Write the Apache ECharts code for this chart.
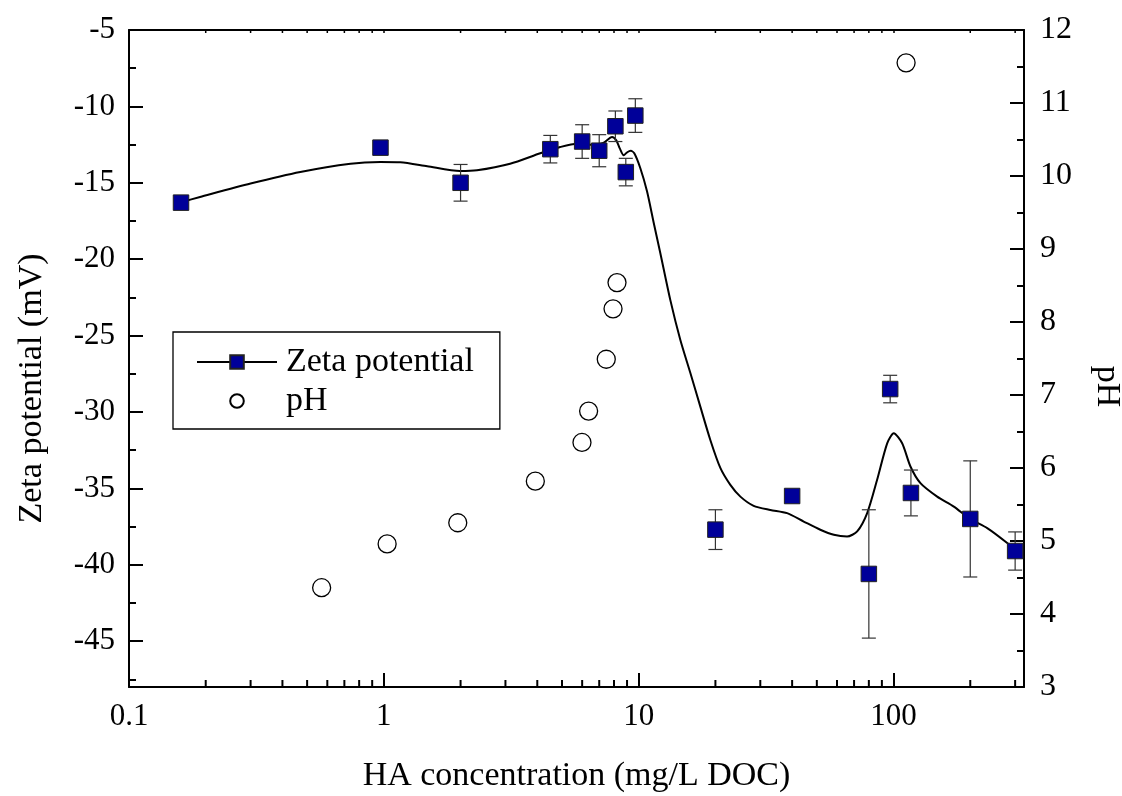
<!DOCTYPE html>
<html>
<head>
<meta charset="utf-8">
<script src="https://cdn.jsdelivr.net/npm/echarts@6/dist/echarts.min.js"></script>
<style>
html,body{margin:0;padding:0;background:#fff;}
#chart{width:1122px;height:796px;}
</style>
</head>
<body>
<div id="chart"></div>
<script>
// ---- data ----
const zetaX   = [0.16, 0.97, 2.0, 4.5, 6.0, 7.0, 8.1, 8.9, 9.7, 20, 40, 80, 97, 117, 200, 300];
const zetaY   = [-16.3, -12.7, -15.0, -12.8, -12.3, -12.9, -11.3, -14.3, -10.6, -37.7, -35.5, -40.6, -28.5, -35.3, -37.0, -39.1];
const zetaErr = [0.3, 0, 1.2, 0.9, 1.1, 1.05, 1.0, 0.9, 1.1, 1.3, 0, 4.2, 0.9, 1.5, 3.8, 1.25];

const phX = [0.57, 1.03, 1.95, 3.93, 5.99, 6.36, 7.46, 7.93, 8.22, 112];
const phY = [4.36, 4.96, 5.25, 5.82, 6.35, 6.78, 7.49, 8.18, 8.54, 11.55];

// smooth fitted curve
const curveX = [0.16, 0.19, 0.30, 0.47, 0.74, 0.97, 1.16, 1.48, 1.99, 2.32, 3.13, 4.11, 4.92, 5.73, 6.65, 7.26, 7.86, 8.17, 8.43, 8.73, 9.02, 9.31, 9.61, 10.15, 10.78, 11.44, 12.16, 13.31, 14.57, 15.95, 17.45, 19.10, 20.91, 22.89, 25.06, 28.25, 32.86, 38.22, 44.4, 51.6, 58.3, 65.7, 72.0, 78.8, 86.2, 94.4, 100.2, 108.1, 116.5, 127.5, 148.3, 172.4, 199.2, 233.1, 279.3, 301];
const curveY = [-16.27, -15.93, -15.05, -14.29, -13.75, -13.64, -13.66, -13.92, -14.23, -14.18, -13.75, -13.07, -12.66, -12.44, -12.52, -12.39, -12.0, -12.22, -12.75, -13.2, -13.0, -12.91, -13.07, -14.05, -15.56, -17.58, -19.61, -22.68, -25.29, -27.45, -29.65, -31.83, -33.66, -34.77, -35.54, -36.14, -36.41, -36.62, -37.17, -37.71, -38.04, -38.15, -37.82, -36.62, -34.44, -32.05, -31.39, -32.05, -33.57, -34.66, -35.54, -36.19, -36.99, -37.60, -38.58, -39.08];

// axis ticks
const xMajorLabels = [0.1, 1, 10, 100];
const xMinorTicks = [0.2,0.3,0.4,0.5,0.6,0.7,0.8,0.9, 2,3,4,5,6,7,8,9, 20,30,40,50,60,70,80,90, 200,300];
const zMajorTicks = [-45,-40,-35,-30,-25,-20,-15,-10,-5];
const zMinorTicks = [-47.5,-42.5,-37.5,-32.5,-27.5,-22.5,-17.5,-12.5,-7.5];

const FONT = 'Liberation Serif';
const chart = echarts.init(document.getElementById('chart'), null, {renderer:'canvas'});

const curveData = curveX.map((x,i)=>[x, curveY[i]]);
const zetaData = zetaX.map((x,i)=>[x, zetaY[i]]);
const errData = zetaX.map((x,i)=>[x, zetaY[i]-zetaErr[i], zetaY[i]+zetaErr[i]]).filter((d,i)=>zetaErr[i]>0);
const phData = phX.map((x,i)=>[x, phY[i]]);
const minorData = xMinorTicks.map(v=>[v, -30]);

const axLine = {show:true, onZero:false, lineStyle:{color:'#000', width:2}};

const option = {
  animation:false,
  backgroundColor:'#fff',
  grid:{left:129, top:30, width:895, height:657, show:false, containLabel:false, outerBoundsMode:'none'},
  legend:{
    orient:'vertical', left:173, top:332,
    data:['Zeta potential','pH'],
    itemWidth:80, itemHeight:17, itemGap:3,
    padding:[12,26,10,23],
    borderColor:'#000', borderWidth:1.3,
    backgroundColor:'#fff',
    textStyle:{fontFamily:FONT, fontSize:34, color:'#000', lineHeight:36, padding:[0,0,0,4]},
    selectedMode:false
  },
  xAxis:[
    {type:'log', logBase:10, min:0.1, max:325, position:'bottom',
     axisLine:axLine,
     axisTick:{show:true, inside:true, length:14, lineStyle:{color:'#000', width:2}},
     minorTick:{show:false},
     splitLine:{show:false},
     axisLabel:{fontFamily:FONT, fontSize:31, color:'#000', margin:14,
       formatter:function(v){const l=Math.log10(v); if(Math.abs(l-Math.round(l))>1e-6) return ''; return String(xMajorLabels.find(m=>Math.abs(Math.log10(m)-l)<1e-6));}},
     name:'HA concentration (mg/L DOC)', nameLocation:'middle', nameGap:72,
     nameTextStyle:{fontFamily:FONT, fontSize:34, color:'#000'}
    },
    {type:'log', logBase:10, min:0.1, max:325, position:'top',
     axisLine:axLine,
     axisTick:{show:true, inside:true, length:3, lineStyle:{color:'#000', width:1.5}},
     splitLine:{show:false},
     axisLabel:{show:false}
    }
  ],
  yAxis:[
    {type:'value', min:-48, max:-5, position:'left',
     axisLine:axLine,
     axisTick:{show:true, inside:true, length:14, customValues:zMajorTicks, lineStyle:{color:'#000', width:2}},
     axisLabel:{fontFamily:FONT, fontSize:31, color:'#000', margin:14, customValues:zMajorTicks},
     splitLine:{show:false},
     name:'Zeta potential (mV)', nameLocation:'middle', nameGap:80, nameRotate:90,
     nameTextStyle:{fontFamily:FONT, fontSize:34, color:'#000', padding:[0,60,0,0]}
    },
    {type:'value', min:3, max:12, interval:1, position:'right',
     axisLine:axLine,
     axisTick:{show:true, inside:true, length:14, lineStyle:{color:'#000', width:2}},
     minorTick:{show:true, splitNumber:2, length:7, lineStyle:{color:'#000', width:2}},
     axisLabel:{fontFamily:FONT, fontSize:32, color:'#000', margin:16},
     splitLine:{show:false},
     name:'pH', nameLocation:'middle', nameGap:66, nameRotate:-90,
     nameTextStyle:{fontFamily:FONT, fontSize:34, color:'#000', padding:[0,0,0,56]}
    },
    {type:'value', min:-48, max:-5, position:'left',
     axisLine:{show:false},
     axisTick:{show:true, inside:true, length:7, customValues:zMinorTicks, lineStyle:{color:'#000', width:2}},
     axisLabel:{show:false},
     splitLine:{show:false}
    }
  ],
  series:[
    {name:'Zeta potential', type:'line', xAxisIndex:0, yAxisIndex:0,
     data:curveData, smooth:0.25, showSymbol:false, symbol:'rect',
     lineStyle:{color:'#000', width:2},
     itemStyle:{color:'#000099', borderColor:'#222', borderWidth:1},
     z:3, silent:true},
    {name:'Zeta error', type:'custom', xAxisIndex:0, yAxisIndex:0,
     data:errData, encode:{x:0, y:[1,2]}, z:4, silent:true,
     renderItem:function(params, api){
       const x = api.value(0);
       const lo = api.coord([x, api.value(1)]);
       const hi = api.coord([x, api.value(2)]);
       const hw = 7;
       const st = {stroke:'#333', lineWidth:1.2};
       return {type:'group', children:[
         {type:'line', shape:{x1:hi[0], y1:hi[1], x2:lo[0], y2:lo[1]}, style:st},
         {type:'line', shape:{x1:hi[0]-hw, y1:hi[1], x2:hi[0]+hw, y2:hi[1]}, style:st},
         {type:'line', shape:{x1:lo[0]-hw, y1:lo[1], x2:lo[0]+hw, y2:lo[1]}, style:st}
       ]};
     }},
    {name:'Zeta data', type:'scatter', xAxisIndex:0, yAxisIndex:0,
     data:zetaData, symbol:'rect', symbolSize:15.5,
     itemStyle:{color:'#000099', borderColor:'#222', borderWidth:1, opacity:1},
     z:5, silent:true},
    {name:'pH', type:'line', xAxisIndex:0, yAxisIndex:1,
     data:phData, symbol:'circle', symbolSize:18, showSymbol:true,
     lineStyle:{width:0, opacity:0},
     itemStyle:{color:'#fff', borderColor:'#000', borderWidth:1.3},
     z:5, silent:true},
    {name:'x minor ticks', type:'custom', xAxisIndex:0, yAxisIndex:0,
     data:minorData, encode:{x:0, y:1}, silent:true, clip:false, z:6,
     renderItem:function(params, api){
       const p = api.coord([api.value(0), api.value(1)]);
       const cs = params.coordSys;
       const st = {stroke:'#000', lineWidth:2};
       return {type:'group', children:[
         {type:'line', shape:{x1:p[0], y1:cs.y+cs.height, x2:p[0], y2:cs.y+cs.height-7}, style:st},
         {type:'line', shape:{x1:p[0], y1:cs.y, x2:p[0], y2:cs.y+3}, style:{stroke:'#000', lineWidth:1.5}}
       ]};
     }}
  ]
};
chart.setOption(option);
</script>
</body>
</html>
